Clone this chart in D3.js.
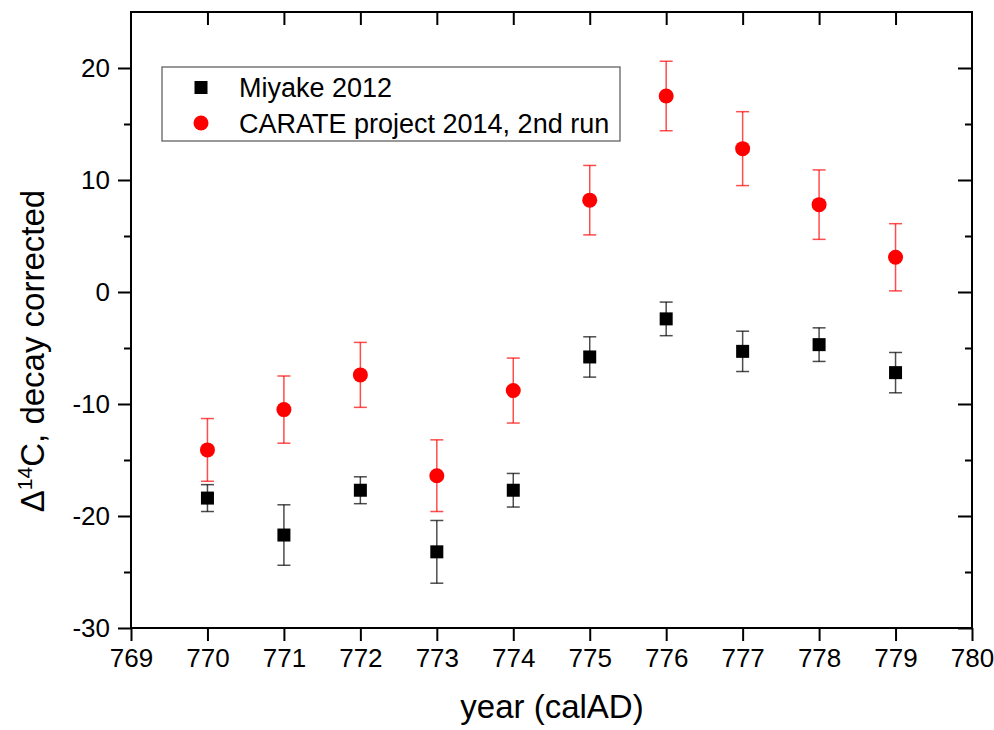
<!DOCTYPE html>
<html>
<head>
<meta charset="utf-8">
<script src="https://cdn.jsdelivr.net/npm/d3@7"></script>
<style>
  body { margin: 0; background: #fff; }
  svg text { font-family: "Liberation Sans", Arial, sans-serif; fill: #000; }
</style>
</head>
<body>
<svg id="chart" width="994" height="730"></svg>
<script>
// データ
const years = [770, 771, 772, 773, 774, 775, 776, 777, 778, 779];
const miyakeValues = [-18.4, -21.7, -17.7, -23.2, -17.7, -5.8, -2.4, -5.3, -4.7, -7.2];
const miyakeErrors = [1.2, 2.7, 1.2, 2.8, 1.5, 1.8, 1.5, 1.8, 1.5, 1.8];
const carateValues = [-14.1, -10.5, -7.4, -16.4, -8.8, 8.2, 17.5, 12.8, 7.8, 3.1];
const carateErrors = [2.8, 3.0, 2.9, 3.2, 2.9, 3.1, 3.1, 3.3, 3.1, 3.0];
const xTicks = d3.range(769, 781);
const yTicks = [-30, -20, -10, 0, 10, 20];
const yMinorTicks = [-25, -15, -5, 5, 15];
const seriesNames = ["Miyake 2012", "CARATE project 2014, 2nd run"];

const margin = {top: 12, right: 22, bottom: 102, left: 131},
    width = 994 - margin.left - margin.right,
    height = 730 - margin.top - margin.bottom;

const svg = d3.select("#chart")
    .append("g")
    .attr("transform", `translate(${margin.left},${margin.top})`);

const x = d3.scaleLinear().domain([769, 780]).range([0, width]);
const y = d3.scaleLinear().domain([-30, 25]).range([height, 0]);

const plainFormat = d => String(d);  // ハイフンのマイナス記号

// 軸のスタイル
function styleAxis(g) {
    g.select(".domain").remove();
    g.selectAll(".tick line").attr("stroke", "#000").attr("stroke-width", 2);
    g.selectAll(".tick text").attr("font-size", 26).attr("fill", "#000");
}

// 下軸（外向き）
svg.append("g")
    .attr("transform", `translate(0,${height})`)
    .call(d3.axisBottom(x).tickValues(xTicks).tickFormat(plainFormat).tickSize(13).tickPadding(8))
    .call(styleAxis);

// 上軸（内向き、ラベルなし）
svg.append("g")
    .call(d3.axisBottom(x).tickValues(xTicks.slice(1, -1)).tickFormat("").tickSize(13))
    .call(styleAxis);

// 左軸（外向き）
svg.append("g")
    .call(d3.axisLeft(y).tickValues(yTicks).tickFormat(plainFormat).tickSize(13).tickPadding(8))
    .call(styleAxis);
svg.append("g")
    .call(d3.axisLeft(y).tickValues(yMinorTicks).tickFormat("").tickSize(7))
    .call(styleAxis);

// 右軸（内向き）
svg.append("g")
    .attr("transform", `translate(${width},0)`)
    .call(d3.axisLeft(y).tickValues(yTicks).tickFormat("").tickSize(14))
    .call(styleAxis);
svg.append("g")
    .attr("transform", `translate(${width},0)`)
    .call(d3.axisLeft(y).tickValues(yMinorTicks).tickFormat("").tickSize(7))
    .call(styleAxis);

// 枠線
svg.append("rect")
    .attr("width", width)
    .attr("height", height)
    .attr("fill", "none")
    .attr("stroke", "#000")
    .attr("stroke-width", 2);

// 軸ラベル
svg.append("text")
    .attr("x", width / 2 + 0.5)
    .attr("y", height + 90)
    .attr("text-anchor", "middle")
    .attr("font-size", 33)
    .text("year (calAD)");

const yLabel = svg.append("text")
    .attr("transform", `translate(${44 - margin.left},${351 - margin.top}) rotate(-90)`)
    .attr("text-anchor", "middle")
    .attr("font-size", 33);
yLabel.append("tspan").text("Δ");
yLabel.append("tspan").attr("font-size", 21).attr("dy", -12).text("14");
yLabel.append("tspan").attr("dy", 12).text("C, decay corrected");

// エラーバー描画
function drawErrorBars(values, errors, color) {
    const g = svg.append("g")
        .attr("stroke", color)
        .attr("stroke-opacity", 0.7)
        .attr("stroke-width", 1.5)
        .attr("fill", "none");
    const rows = years.map((yr, i) => ({yr, v: values[i], e: errors[i]}));
    g.selectAll(".bar").data(rows).join("line")
        .attr("x1", d => x(d.yr)).attr("x2", d => x(d.yr))
        .attr("y1", d => y(d.v + d.e)).attr("y2", d => y(d.v - d.e));
    g.selectAll(".capTop").data(rows).join("line")
        .attr("x1", d => x(d.yr) - 6.5).attr("x2", d => x(d.yr) + 6.5)
        .attr("y1", d => y(d.v + d.e)).attr("y2", d => y(d.v + d.e));
    g.selectAll(".capBottom").data(rows).join("line")
        .attr("x1", d => x(d.yr) - 6.5).attr("x2", d => x(d.yr) + 6.5)
        .attr("y1", d => y(d.v - d.e)).attr("y2", d => y(d.v - d.e));
}

drawErrorBars(miyakeValues, miyakeErrors, "#000");
drawErrorBars(carateValues, carateErrors, "#ff0000");

// マーカー
svg.append("g").selectAll("rect")
    .data(years.map((yr, i) => ({yr, v: miyakeValues[i]})))
    .join("rect")
    .attr("x", d => x(d.yr) - 6.5)
    .attr("y", d => y(d.v) - 6.5)
    .attr("width", 13)
    .attr("height", 13)
    .attr("fill", "#000");

svg.append("g").selectAll("circle")
    .data(years.map((yr, i) => ({yr, v: carateValues[i]})))
    .join("circle")
    .attr("cx", d => x(d.yr))
    .attr("cy", d => y(d.v))
    .attr("r", 7.5)
    .attr("fill", "#ff0000");

// 凡例
const legend = svg.append("g").attr("transform", `translate(${162 - margin.left},${67 - margin.top})`);
legend.append("rect")
    .attr("width", 458)
    .attr("height", 74)
    .attr("fill", "#fff")
    .attr("stroke", "#555")
    .attr("stroke-width", 1.2);
legend.append("rect")
    .attr("x", 39 - 6.5).attr("y", 20.5 - 6.5)
    .attr("width", 13).attr("height", 13)
    .attr("fill", "#000");
legend.append("circle")
    .attr("cx", 39).attr("cy", 56)
    .attr("r", 7.5)
    .attr("fill", "#ff0000");
legend.selectAll(".label")
    .data(seriesNames)
    .join("text")
    .attr("x", 77)
    .attr("y", (d, i) => 29.5 + i * 36.5)
    .attr("font-size", 27)
    .text(d => d);
</script>
</body>
</html>
